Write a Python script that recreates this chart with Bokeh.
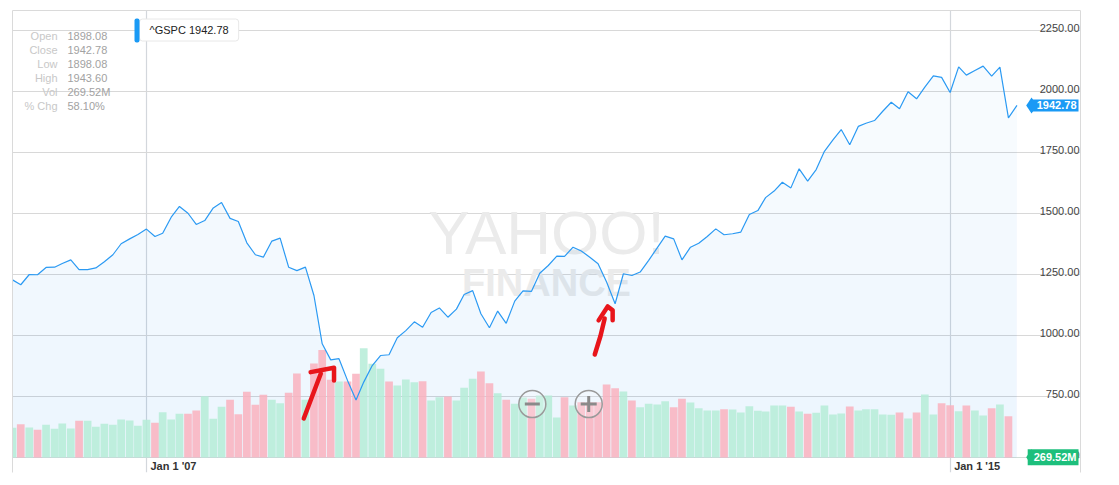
import numpy as np
import pandas as pd
from bokeh.plotting import figure
from bokeh.models import Range1d, LinearAxis, FixedTicker, ColumnDataSource, Label, BoxAnnotation
from bokeh.core.properties import value
from bokeh.embed import file_html
from bokeh.resources import INLINE

FONT = "Liberation Sans"

# ---------------- data (monthly, Sep 2005 .. Sep 2015) ----------------
months = pd.date_range("2005-09-01", periods=121, freq="MS")
close = [
    1228, 1208, 1250, 1249,
    1279, 1280, 1295, 1310, 1270, 1270, 1277, 1302, 1331, 1376, 1396, 1414,
    1436, 1406, 1419, 1485, 1529, 1501, 1455, 1471, 1523, 1545, 1480, 1467,
    1380, 1331, 1321, 1387, 1399, 1280, 1266, 1280, 1164, 966, 900, 905,
    816, 736, 809, 877, 918, 921, 991, 1020, 1056, 1034, 1094, 1113,
    1075, 1108, 1168, 1184, 1089, 1032, 1100, 1050, 1141, 1183, 1181, 1255,
    1287, 1325, 1324, 1362, 1346, 1321, 1294, 1219, 1130, 1253, 1246, 1260,
    1308, 1359, 1407, 1396, 1310, 1362, 1378, 1406, 1437, 1413, 1417, 1424,
    1496, 1512, 1565, 1592, 1628, 1605, 1683, 1633, 1680, 1755, 1802, 1844,
    1782, 1857, 1870, 1881, 1919, 1956, 1929, 1999, 1970, 2018, 2064, 2058,
    1996, 2101, 2067, 2086, 2104, 2063, 2100, 1892, 1942.78,
]
volume_bn = [
    29.7, 33.3, 30.0, 27.7,
    32.7, 28.7, 34.0, 29.0, 36.7, 36.7, 30.7, 33.7, 32.7, 38.0, 37.0, 31.7,
    37.7, 34.7, 45.3, 38.0, 43.7, 43.7, 47.0, 61.3, 38.7, 50.7, 57.7, 43.3,
    65.7, 52.7, 62.7, 57.7, 54.3, 64.7, 84.0, 57.7, 94.0, 107.5, 77.7, 76.0,
    76.0, 83.7, 109.3, 93.7, 88.7, 76.0, 72.0, 78.0, 75.3, 76.3, 57.0, 60.3,
    61.0, 57.0, 69.7, 78.7, 86.0, 74.3, 64.3, 57.7, 53.7, 60.0, 58.7, 62.0,
    62.0, 40.0, 60.3, 52.0, 55.3, 55.3, 55.3, 73.0, 69.3, 66.0, 57.0, 50.3,
    53.7, 53.0, 56.3, 50.3, 58.7, 55.0, 49.3, 47.0, 47.0, 48.3, 48.0, 45.0,
    51.3, 46.7, 46.0, 52.0, 52.0, 50.7, 46.0, 43.7, 44.7, 52.0, 43.0, 44.0,
    51.0, 47.0, 48.3, 48.3, 43.0, 42.7, 45.0, 39.0, 45.0, 63.0, 43.0, 54.3,
    52.3, 46.3, 52.0, 47.0, 42.0, 49.3, 53.0, 41.3, 0.26952,
]
bar_up = [
    1, 0, 1, 0,
    1, 1, 1, 1, 0, 1, 1, 1, 1, 1, 1, 1,
    1, 0, 1, 1, 1, 0, 0, 1, 1, 1, 0, 0,
    0, 0, 0, 1, 1, 0, 0, 1, 0, 0, 0, 1,
    0, 0, 1, 1, 1, 0, 1, 1, 1, 0, 1, 1,
    0, 1, 1, 1, 0, 0, 1, 0, 1, 1, 0, 1,
    1, 1, 0, 1, 0, 0, 0, 0, 0, 1, 0, 1,
    1, 1, 1, 0, 0, 1, 1, 1, 1, 0, 1, 1,
    1, 1, 1, 1, 1, 0, 1, 0, 1, 1, 1, 1,
    0, 1, 1, 1, 1, 1, 0, 1, 0, 1, 1, 0,
    0, 1, 0, 1, 1, 0, 1, 0, 1,
]
price_ticks = [500, 750, 1000, 1250, 1500, 1750, 2000, 2250]
date_ticks = pd.to_datetime(["2007-01-01", "2015-01-01"])
date_tick_labels = ["Jan 1 '07", "Jan 1 '15"]
symbol = "^GSPC"
info_names = ["Open", "Close", "Low", "High", "Vol", "% Chg"]
info_values = ["1898.08", "1942.78", "1898.08", "1943.60", "269.52M", "58.10%"]

# hand-drawn red marks on the screenshot (date, price)
stroke_dates = [
    ["2008-07-26", "2008-09-26"],
    ["2008-08-20", "2008-11-13", "2008-11-13"],
    ["2011-06-19", "2011-07-10", "2011-07-25"],
    ["2011-07-03", "2011-08-05", "2011-08-23", "2011-08-23"],
]
stroke_prices = [
    [660, 844],
    [850, 868, 816],
    [922, 999, 1070],
    [1062, 1119, 1103, 1062],
]
zoom_buttons = pd.to_datetime(["2010-11-04", "2011-05-28"])
zoom_button_price = [719, 719]

# ---------------- styling ----------------
LINE = "#2b9af3"
FILL = "#1e88e5"
UP = "#b5ecd7"
DOWN = "#f9b1be"
GRID = "#d8d8d8"
BORDER = "#dadada"
BLUE = "#1a9af5"
GREEN = "#1dbf7c"

x_start = pd.Timestamp("2005-09-01")
x_end = pd.Timestamp("2016-04-19")
px_per_price = 61 / 250.0
y_start = price_ticks[0] - 15 / px_per_price
y_end = price_ticks[-1] + 20 / px_per_price

p = figure(width=1088, height=478, x_axis_type="datetime",
           x_range=Range1d(x_start, x_end), y_range=Range1d(y_start, y_end),
           x_axis_location=None, y_axis_location=None,
           toolbar_location=None, output_backend="svg",
           min_border_left=12, min_border_right=8, min_border_top=10, min_border_bottom=6)
p.extra_y_ranges = {"vol": Range1d(-15, 447)}
p.outline_line_color = None
p.background_fill_color = "white"
p.border_fill_color = "white"

# border lines (left, right, top) via empty axes
for loc in ["left", "right", "above"]:
    ax = LinearAxis(ticker=FixedTicker(ticks=[]), axis_line_color=BORDER,
                    major_tick_out=0, major_tick_in=0, minor_tick_out=0, minor_tick_in=0,
                    major_label_text_font_size="0px", major_label_standoff=0)
    p.add_layout(ax, loc)

p.xgrid.ticker = FixedTicker(ticks=[d.value // 10**6 for d in date_ticks])
p.xgrid.grid_line_color = "#d3d7dc"
p.xgrid.grid_line_width = 1.2
p.ygrid.ticker = FixedTicker(ticks=price_ticks)
p.ygrid.grid_line_color = GRID
p.ygrid.grid_line_width = 1.2

# watermark
for txt, yy, size, style in [("YAHOO!", 240, "62px", "normal"), ("FINANCE", 190, "38px", "bold")]:
    p.add_layout(Label(x=534, y=yy, x_units="screen", y_units="screen", text=txt,
                       text_align="center", text_baseline="alphabetic",
                       text_font=FONT, text_font_size=size, text_font_style=style,
                       text_color="#ebebeb", level="underlay"))

# area fill (layered for a soft vertical gradient)
close_arr = np.array(close, dtype=float)
base = price_ticks[0]
p.varea(x=months, y1=base, y2=close_arr, fill_color=FILL, fill_alpha=0.035)
for lvl in price_ticks[1:6]:
    p.varea(x=months, y1=base, y2=np.minimum(close_arr, lvl), fill_color=FILL, fill_alpha=0.008)

# volume bars
bar_src = ColumnDataSource(dict(x=months, top=volume_bn,
                                color=[UP if u else DOWN for u in bar_up]))
p.vbar(x="x", top="top", bottom=0, width=28 * 86400000, source=bar_src,
       fill_color="color", line_color=None, fill_alpha=0.85, y_range_name="vol")

# price line
p.line(months, close_arr, line_color=LINE, line_width=1.2)

# date tick labels
p.text(x=list(date_ticks), y=[price_ticks[0]] * len(date_ticks), text=date_tick_labels,
       x_offset=4, y_offset=2, text_baseline="top", text_align="left",
       text_font=value(FONT), text_font_size="11px", text_font_style="bold", text_color="#333333")

# price tick labels (inside, right)
p.text(x=[x_end] * len(price_ticks), y=price_ticks, text=[f"{t:.2f}" for t in price_ticks],
       x_offset=-1, y_offset=-3, text_baseline="alphabetic", text_align="right",
       text_font=value(FONT), text_font_size="11px", text_color="#444444")

# zoom buttons
p.scatter(x=zoom_buttons, y=zoom_button_price, marker="circle", size=27,
          fill_color="white", fill_alpha=0.2, line_color="#9a9a9a", line_width=1.5)
p.scatter(x=zoom_buttons[:1], y=zoom_button_price[:1], marker="dash", size=15,
          line_color="#8a8a8a", line_width=3)
p.scatter(x=zoom_buttons[1:], y=zoom_button_price[1:], marker="cross", size=16,
          line_color="#8a8a8a", line_width=3)

# value tags on the right
tag_x = x_end - pd.Timedelta(days=178)
p.scatter(x=[tag_x], y=[close[-1]], marker="diamond", size=16, fill_color=BLUE, line_color=None)
p.text(x=[x_end], y=[close[-1]], text=[f"{close[-1]:.2f}"], x_offset=-2,
       text_align="right", text_baseline="middle", text_color="white",
       text_font=value(FONT), text_font_size="11px", text_font_style="bold",
       background_fill_color=BLUE, padding=dict(left=6, right=2, top=2, bottom=2))
p.scatter(x=[tag_x], y=[volume_bn[-1]], marker="diamond", size=16, fill_color=GREEN,
          line_color=None, y_range_name="vol")
p.text(x=[x_end], y=[volume_bn[-1]], text=[f"{volume_bn[-1] * 1000:.2f}M"], x_offset=-2,
       text_align="right", text_baseline="middle", text_color="white",
       text_font=value(FONT), text_font_size="11px", text_font_style="bold",
       background_fill_color=GREEN, padding=dict(left=6, right=2, top=2, bottom=2),
       y_range_name="vol")

# red hand-drawn marks
r = p.multi_line(xs=[list(pd.to_datetime(s)) for s in stroke_dates], ys=stroke_prices,
                 line_color="#e8151b", line_width=4.5, line_cap="round", line_join="round")
r.level = "overlay"

# info panel (top-left)
row0, step = 437, 14.1
for i, (nm, vv) in enumerate(zip(info_names, info_values)):
    yy = row0 - i * step
    p.add_layout(Label(x=45, y=yy, x_units="screen", y_units="screen", text=nm,
                       text_align="right", text_baseline="middle", text_font=FONT,
                       text_font_size="11px", text_color="#c8c8c8"))
    p.add_layout(Label(x=55, y=yy, x_units="screen", y_units="screen", text=vv,
                       text_align="left", text_baseline="middle", text_font=FONT,
                       text_font_size="11px", text_color="#a2a2a2"))

# legend box
p.add_layout(Label(x=127, y=442.5, x_units="screen", y_units="screen",
                   text=f"{symbol} {close[-1]:.2f}", text_align="left", text_baseline="middle",
                   text_font=FONT, text_font_size="11px", text_color="#222222",
                   background_fill_color="white", border_line_color="#e8e8e8",
                   padding=dict(left=10, right=10, top=5, bottom=5), border_radius=3))
p.add_layout(BoxAnnotation(left=122, right=127, top=454, bottom=430,
                           left_units="screen", right_units="screen",
                           top_units="screen", bottom_units="screen",
                           fill_color=BLUE, fill_alpha=1, line_color=None,
                           border_radius=2))

open("out.html", "w").write(file_html(p, INLINE))
